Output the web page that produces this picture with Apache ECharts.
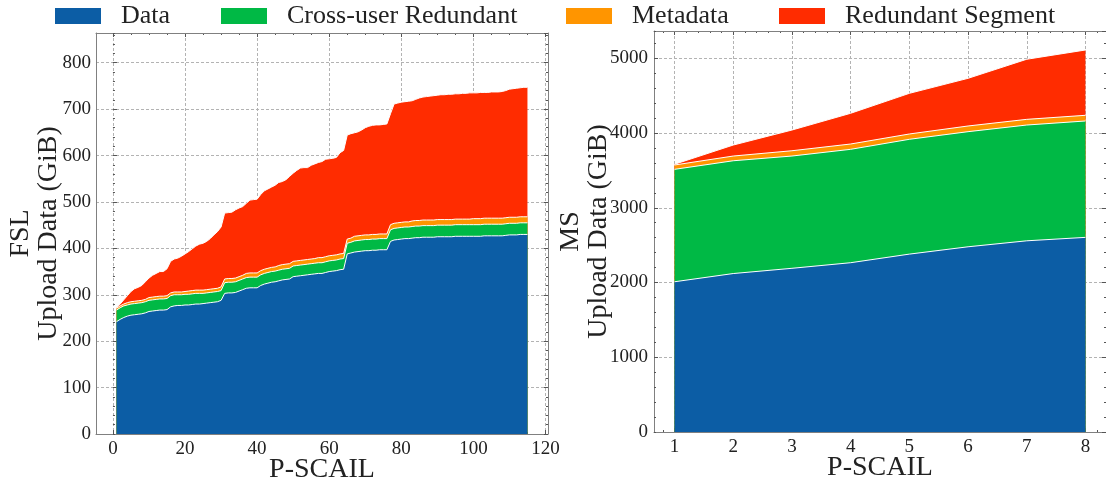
<!DOCTYPE html>
<html>
<head>
<meta charset="utf-8">
<script src="https://cdn.jsdelivr.net/npm/echarts@6/dist/echarts.min.js"></script>
<style>
  html, body { margin: 0; padding: 0; background: #ffffff; }
  #chart { width: 1106px; height: 489px; }
</style>
</head>
<body>
<div id="chart"></div>
<script>
// ---------- FSL trace: upload volume per P-SCAIL run (GiB) ----------
const fslRuns = Array.from({ length: 115 }, (_, i) => i + 1);
const fslData = [
  242,247,251,254,256,257,258,259,261,264,
  265,266,267,267,268,274,276,277,277,278,
  278,279,280,280,281,282,283,284,285,288,
  303,304,304,305,308,311,314,315,315,315,
  320,323,325,327,328,330,332,333,334,339,
  340,341,342,343,344,345,346,346,348,350,
  351,352,354,355,388,390,392,393,394,395,
  395,396,396,397,397,397,415,418,419,420,
  421,421,422,423,423,424,424,424,424,425,
  425,425,425,425,426,426,426,426,426,426,
  426,426,427,427,427,427,427,427,428,429,
  429,429,430,430,430
];
const fslCrossUser = [
  25,25,25,24,24,24,24,24,24,24,
  24,24,24,24,24,24,24,23,23,23,
  23,23,23,23,22,22,22,22,22,21,
  23,23,23,23,23,23,23,23,23,23,
  23,23,23,23,23,23,23,23,23,23,
  23,23,23,23,23,23,23,23,23,23,
  23,23,23,23,23,23,24,24,24,24,
  24,24,24,24,24,24,25,25,25,25,
  25,25,25,25,25,25,25,25,25,25,
  25,25,25,25,25,25,25,25,25,25,
  25,25,25,25,25,25,25,25,25,25,
  25,25,25,25,25
];
const fslMetadata = [
  4,4,4,5,5,5,5,5,5,6,
  6,6,6,6,6,6,6,6,6,6,
  7,7,7,7,7,7,7,7,7,8,
  8,8,8,8,8,8,9,9,9,9,
  9,9,9,9,9,10,10,10,10,10,
  10,10,10,10,10,10,11,11,11,11,
  11,11,11,11,9,9,10,10,10,10,
  10,10,10,10,10,10,11,11,11,11,
  11,11,12,12,12,12,12,12,12,12,
  12,12,12,12,12,12,12,12,12,13,
  13,13,13,13,13,13,13,13,13,13,
  13,13,13,13,13
];
const fslRedundantSegment = [
  1,4,9,15,22,27,29,32,38,42,
  47,50,53,53,58,68,71,73,77,81,
  85,90,95,99,101,104,109,116,122,129,
  142,142,143,147,148,148,151,157,158,159,
  164,169,171,173,176,179,179,182,188,190,
  195,199,199,198,202,204,205,207,210,209,
  209,210,218,222,224,225,223,224,227,231,
  234,235,236,235,236,237,239,257,258,259,
  259,260,259,261,264,265,266,267,268,268,
  269,269,270,270,270,270,271,271,272,271,
  271,272,271,271,272,272,272,273,274,276,
  277,278,278,279,279
];

// ---------- MS trace ----------
const msRuns = [1, 2, 3, 4, 5, 6, 7, 8];
const msData = [2010, 2120, 2190, 2265, 2380, 2478, 2558, 2604];
const msCrossUser = [1504, 1509, 1502, 1517, 1536, 1540, 1549, 1557];
const msMetadata = [58, 63, 71, 71, 71, 76, 76, 76];
const msRedundantSegment = [10, 147, 277, 411, 544, 638, 804, 874];

// tick values
const fslXTicks = { major: 20, minor: 5, first: 0, last: 120 };
const fslYTicks = { major: 100, minor: 20 };
const msXTicks = { major: 1, minor: 0.2, first: 1, last: 8, minorFirst: 0.8, minorLast: 8.2 };
const msYTicks = { major: 1000, minor: 200 };

const layerNames = ['Data', 'Cross-user Redundant', 'Metadata', 'Redundant Segment'];
const layerColors = ['#0C5DA5', '#00B945', '#FF9500', '#FF2C00'];

// ---------- styling ----------
const FONT = "'Liberation Serif', 'DejaVu Serif', serif";
const TEXT = '#222222';
const FRAME = '#808080';
const TICK = '#555555';
const GRIDLINE = '#b3b3b3';

// plot frames (pixels) and data-space limits
const L = { left: 96, top: 33, width: 452, height: 401, xMin: -4.7, xMax: 120.7, yMax: 864 };
const R = { left: 654, top: 31, width: 452, height: 401, xMin: 0.65, xMax: 8.35, yMax: 5365 };

function subGrid(frame, a, b) {
  const k = frame.width / (frame.xMax - frame.xMin);
  return { left: frame.left + (a - frame.xMin) * k, top: frame.top, width: (b - a) * k, height: frame.height };
}
function mainGrid(frame) {
  return { left: frame.left, top: frame.top, width: frame.width, height: frame.height };
}

const grids = [
  mainGrid(L),                                           // 0 FSL data
  subGrid(L, fslXTicks.first, fslXTicks.last),           // 1 FSL x ticks
  mainGrid(R),                                           // 2 MS data
  subGrid(R, msXTicks.first, msXTicks.last),             // 3 MS major x ticks
  subGrid(R, msXTicks.minorFirst, msXTicks.minorLast)    // 4 MS minor x ticks
];

const noLine = { show: false };
const frameLine = { show: true, onZero: false, lineStyle: { color: FRAME, width: 1 } };
const labelStyle = { fontFamily: FONT, fontSize: 19, color: TEXT };
const dashed = { show: true, lineStyle: { color: GRIDLINE, width: 1, type: [3, 2] } };

function frameAxis(gridIndex, position, min, max, extra) {
  return Object.assign({
    type: 'value', gridIndex, position, min, max, z: 10,
    axisLine: frameLine, axisTick: { show: false }, axisLabel: { show: false },
    splitLine: { show: false }
  }, extra || {});
}
function tickAxis(gridIndex, position, min, max, interval, len, extra) {
  return Object.assign({
    type: 'value', gridIndex, position, min, max, interval,
    axisLine: noLine,
    axisTick: { show: true, inside: true, length: len, lineStyle: { color: TICK, width: 1 } },
    axisLabel: { show: false }, splitLine: { show: false }
  }, extra || {});
}
function hiddenAxis(gridIndex) {
  return { type: 'value', gridIndex, show: false, min: 0, max: 1 };
}
const xName = {
  name: 'P-SCAIL', nameLocation: 'middle', nameGap: 22, nameMoveOverlap: false,
  nameTextStyle: { fontFamily: FONT, fontSize: 28, color: TEXT }
};
function yName(title, gap) {
  return {
    name: title + '\nUpload Data (GiB)', nameLocation: 'middle', nameRotate: 90,
    nameGap: gap, nameMoveOverlap: false,
    nameTextStyle: { fontFamily: FONT, fontSize: 28, lineHeight: 28, color: TEXT }
  };
}
const intLabel = v => String(v);

const xAxes = [
  // FSL
  frameAxis(0, 'bottom', L.xMin, L.xMax, xName),
  frameAxis(0, 'top', L.xMin, L.xMax),
  tickAxis(1, 'bottom', fslXTicks.first, fslXTicks.last, fslXTicks.major, 4, {
    axisLabel: Object.assign({ show: true, margin: 6, formatter: intLabel }, labelStyle),
    splitLine: dashed
  }),
  tickAxis(1, 'top', fslXTicks.first, fslXTicks.last, fslXTicks.major, 4),
  tickAxis(1, 'bottom', fslXTicks.first, fslXTicks.last, fslXTicks.minor, 2),
  tickAxis(1, 'top', fslXTicks.first, fslXTicks.last, fslXTicks.minor, 2),
  // MS
  frameAxis(2, 'bottom', R.xMin, R.xMax, xName),
  frameAxis(2, 'top', R.xMin, R.xMax),
  tickAxis(3, 'bottom', msXTicks.first, msXTicks.last, msXTicks.major, 4, {
    axisLabel: Object.assign({ show: true, margin: 6, formatter: intLabel }, labelStyle),
    splitLine: dashed
  }),
  tickAxis(3, 'top', msXTicks.first, msXTicks.last, msXTicks.major, 4),
  tickAxis(4, 'bottom', msXTicks.minorFirst, msXTicks.minorLast, msXTicks.minor, 2),
  tickAxis(4, 'top', msXTicks.minorFirst, msXTicks.minorLast, msXTicks.minor, 2)
];

const yAxes = [
  // FSL
  tickAxis(0, 'left', 0, L.yMax, fslYTicks.major, 4, Object.assign({
    axisLabel: Object.assign({ show: true, margin: 5, showMaxLabel: false, formatter: intLabel }, labelStyle),
    splitLine: dashed
  }, yName('FSL', 33))),
  frameAxis(0, 'left', 0, L.yMax),
  frameAxis(0, 'right', 0, L.yMax, {
    interval: fslYTicks.major,
    axisTick: { show: true, inside: true, length: 4, lineStyle: { color: TICK } }
  }),
  tickAxis(0, 'left', 0, L.yMax, fslYTicks.minor, 2, { z: 10 }),
  tickAxis(0, 'right', 0, L.yMax, fslYTicks.minor, 2, { z: 10 }),
  hiddenAxis(1),
  // MS
  tickAxis(2, 'left', 0, R.yMax, msYTicks.major, 4, Object.assign({
    axisLabel: Object.assign({ show: true, margin: 6, showMaxLabel: false, formatter: intLabel }, labelStyle),
    splitLine: dashed
  }, yName('MS', 41))),
  frameAxis(2, 'left', 0, R.yMax),
  frameAxis(2, 'right', 0, R.yMax, {
    interval: msYTicks.major,
    axisTick: { show: true, inside: true, length: 4, lineStyle: { color: TICK } }
  }),
  tickAxis(2, 'left', 0, R.yMax, msYTicks.minor, 2, { z: 10 }),
  tickAxis(2, 'right', 0, R.yMax, msYTicks.minor, 2, { z: 10 }),
  hiddenAxis(3),
  hiddenAxis(4)
];

// Running totals of the layers: each layer is filled from zero up to its
// cumulative top, tallest first, so the bands read as a stack.
function cumulative(layers) {
  const out = [];
  let run = layers[0].map(() => 0);
  layers.forEach(ys => {
    run = run.map((v, i) => v + ys[i]);
    out.push(run);
  });
  return out;
}

function layerSeries(layer, xs, tops, xAxisIndex, yAxisIndex) {
  const color = layerColors[layer];
  return {
    type: 'line', name: layerNames[layer], xAxisIndex, yAxisIndex,
    z: 6 - layer, symbol: 'none', showSymbol: false, silent: true,
    data: xs.map((x, i) => [x, tops[i]]),
    lineStyle: { color: '#ffffff', width: 1 },
    itemStyle: { color },
    areaStyle: { color, opacity: 1, origin: 'start' },
    emphasis: { disabled: true }
  };
}

const fslTops = cumulative([fslData, fslCrossUser, fslMetadata, fslRedundantSegment]);
const msTops = cumulative([msData, msCrossUser, msMetadata, msRedundantSegment]);
const series = [];
for (let k = layerNames.length - 1; k >= 0; k--) {
  series.push(layerSeries(k, fslRuns, fslTops[k], 0, 0));
  series.push(layerSeries(k, msRuns, msTops[k], 6, 6));
}

const legendLefts = [55, 221, 566, 779];
const legends = layerNames.map((name, k) => ({
  left: legendLefts[k], top: 3, padding: 0, orient: 'horizontal',
  data: [{ name, icon: 'rect', itemStyle: { color: layerColors[k], borderWidth: 0 } }],
  itemWidth: 46, itemHeight: 16, selectedMode: false,
  textStyle: { fontFamily: FONT, fontSize: 26, color: TEXT, padding: [0, 0, 0, 15] }
}));

const chart = echarts.init(document.getElementById('chart'), null, { renderer: 'canvas' });
chart.setOption({
  backgroundColor: '#ffffff',
  animation: false,
  legend: legends,
  grid: grids,
  xAxis: xAxes,
  yAxis: yAxes,
  series
});
</script>
</body>
</html>
